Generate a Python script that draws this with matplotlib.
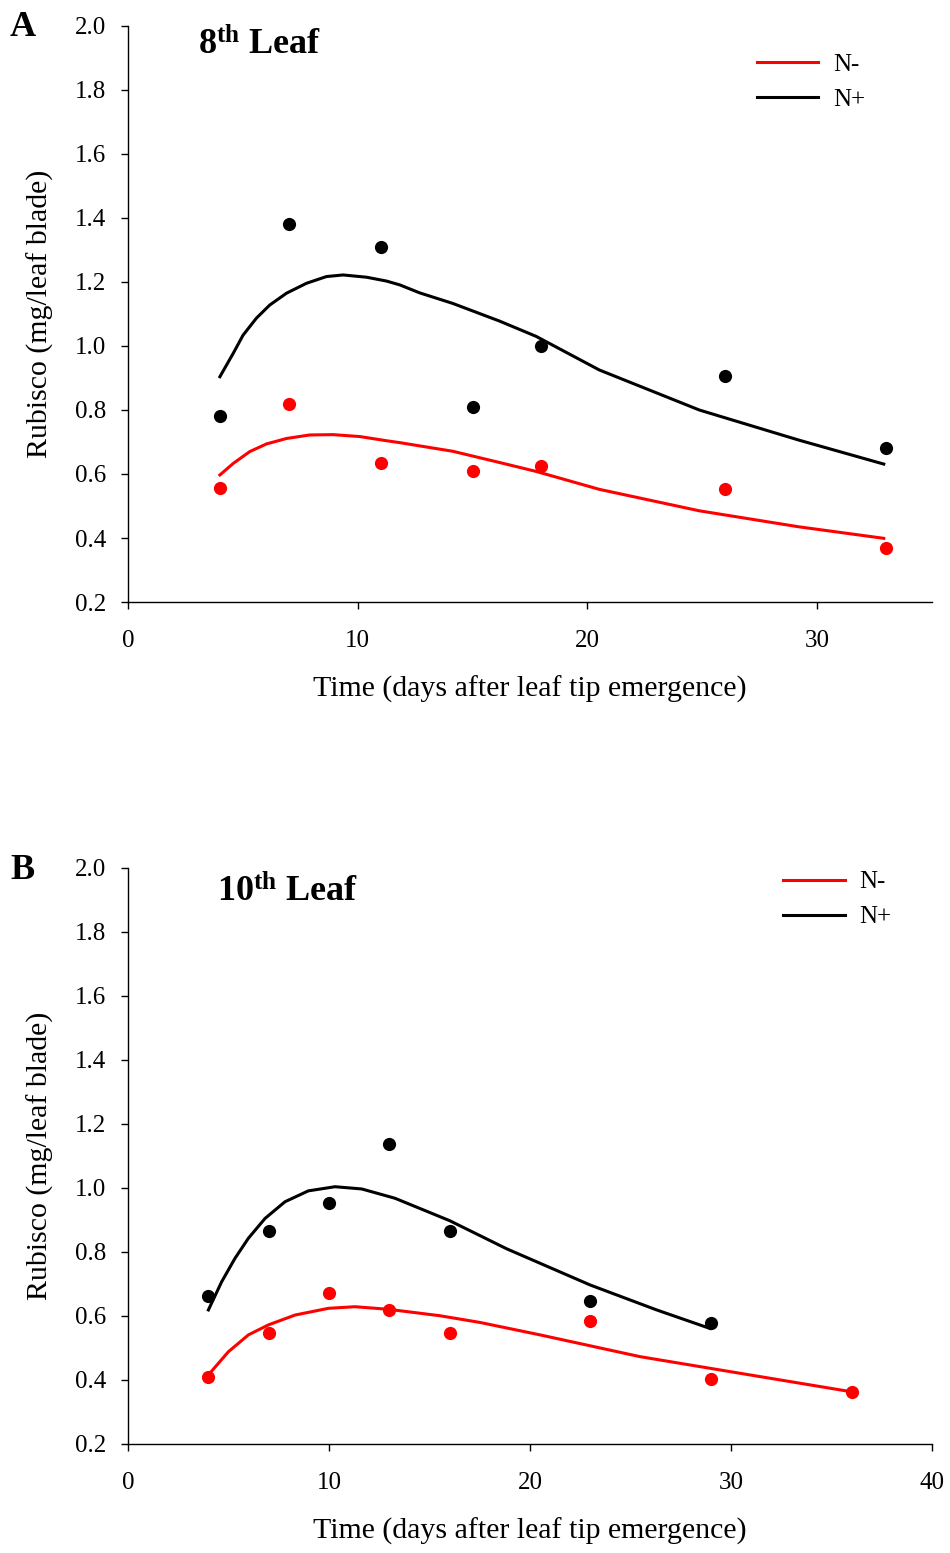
import matplotlib

matplotlib.use("Agg")
import matplotlib.pyplot as plt

plt.rcParams["font.family"] = ["Liberation Serif", "DejaVu Serif"]
plt.rcParams["mathtext.fontset"] = "custom"
plt.rcParams["mathtext.rm"] = "Liberation Serif"
plt.rcParams["mathtext.bf"] = "Liberation Serif:bold"

# panel A: 8th leaf
a_days = [4, 7, 11, 15, 18, 26, 33]
a_nplus = [0.78, 1.38, 1.31, 0.81, 1.00, 0.905, 0.68]
a_nminus = [0.555, 0.82, 0.635, 0.61, 0.625, 0.552, 0.368]
# fitted curves
a_fit_days_plus = [4.0, 4.58, 5.01, 5.59, 6.17, 6.9, 7.77, 8.64, 9.36, 10.38, 11.25, 11.83,
                   12.7, 14.14, 16.17, 17.77, 20.52, 24.87, 29.2, 32.9]
a_fit_nplus = [0.904, 0.977, 1.034, 1.087, 1.128, 1.165, 1.196, 1.217, 1.222, 1.215, 1.203, 1.191,
               1.166, 1.133, 1.078, 1.030, 0.925, 0.800, 0.706, 0.631]
a_fit_days_minus = [4.0, 4.58, 5.3, 6.03, 6.9, 7.91, 8.93, 10.09, 11.25, 11.83, 14.14, 16.17,
                    17.77, 20.52, 24.87, 29.2, 32.9]
a_fit_nminus = [0.597, 0.633, 0.670, 0.694, 0.711, 0.722, 0.723, 0.717, 0.704, 0.698, 0.671, 0.636,
                0.608, 0.552, 0.485, 0.435, 0.399]

# panel B: 10th leaf
b_days_plus = [4, 7, 10, 13, 16, 23, 29]
b_nplus = [0.662, 0.866, 0.953, 1.137, 0.866, 0.647, 0.578]
b_days_minus = [4, 7, 10, 13, 16, 23, 29, 36]
b_nminus = [0.41, 0.547, 0.672, 0.619, 0.547, 0.584, 0.403, 0.362]
b_fit_days_plus = [4.0, 4.66, 5.32, 5.99, 6.82, 7.81, 8.97, 10.3, 11.63, 13.28, 16.0, 18.84,
                   22.99, 26.3, 28.96]
b_fit_nplus = [0.619, 0.707, 0.780, 0.843, 0.905, 0.957, 0.991, 1.004, 0.997, 0.968, 0.898, 0.81,
               0.697, 0.619, 0.561]
b_fit_days_minus = [4.0, 4.99, 5.99, 6.98, 8.31, 9.97, 11.29, 12.95, 15.5, 17.5, 20.5, 25.47,
                    30.45, 35.92]
b_fit_nminus = [0.416, 0.488, 0.541, 0.572, 0.603, 0.624, 0.629, 0.621, 0.601, 0.58, 0.541, 0.473,
                0.421, 0.364]

RED = "#ff0000"
BLACK = "#000000"


def panel(ax, days_p, nplus, days_m, nminus, fdp, fp, fdm, fm, xmax, xticks, title, tx, ty, leg_x, leg_y):
    ax.plot(fdm, fm, color=RED, lw=2.2, label="N-", solid_joinstyle="round")
    ax.plot(fdp, fp, color=BLACK, lw=2.2, label="N+", solid_joinstyle="round")
    ax.plot(days_m, nminus, "o", color=RED, ms=9.5, mec="none")
    ax.plot(days_p, nplus, "o", color=BLACK, ms=9.5, mec="none")
    ax.set_xlim(0, xmax)
    ax.set_ylim(0.2, 2.0)
    ax.set_xticks(xticks)
    ax.set_yticks([0.2 + 0.2 * i for i in range(10)])
    ax.set_yticklabels([f"{0.2 + 0.2 * i:.1f}" for i in range(10)])
    for s in ("top", "right"):
        ax.spines[s].set_visible(False)
    for s in ("left", "bottom"):
        ax.spines[s].set_linewidth(1.0)
    ax.tick_params(axis="both", direction="out", length=5, width=1.0, labelsize=18)
    ax.tick_params(axis="y", pad=11)
    ax.tick_params(axis="x", pad=15)
    ax.set_xlabel("Time (days after leaf tip emergence)", fontsize=21.5, labelpad=17)
    ax.set_ylabel("Rubisco (mg/leaf blade)", fontsize=21.5, labelpad=15)
    ax.text(tx, ty, title, transform=ax.transAxes, fontsize=26, fontweight="bold",
            ha="left", va="center")
    ax.legend(loc="upper left", bbox_to_anchor=(leg_x, leg_y), frameon=False, fontsize=18,
              handlelength=2.45, handletextpad=0.6, borderpad=0, borderaxespad=0, labelspacing=0.5)


fig = plt.figure(figsize=(9.5, 15.53), dpi=100)
ax_a = fig.add_axes([128 / 950, 1 - 602 / 1553, 804 / 950, 576 / 1553])
ax_b = fig.add_axes([128 / 950, 1 - 1444 / 1553, 804 / 950, 576 / 1553])

panel(ax_a, a_days, a_nplus, a_days, a_nminus, a_fit_days_plus, a_fit_nplus, a_fit_days_minus,
      a_fit_nminus, 35, [0, 10, 20, 30], r"$\mathbf{8^{th}}$ Leaf", 0.087, 0.967, 0.782, 0.952)
panel(ax_b, b_days_plus, b_nplus, b_days_minus, b_nminus, b_fit_days_plus, b_fit_nplus,
      b_fit_days_minus, b_fit_nminus, 40, [0, 10, 20, 30, 40], r"$\mathbf{10^{th}}$ Leaf",
      0.111, 0.958, 0.815, 0.995)

fig.text(10 / 950, 1 - 27 / 1553, "A", fontsize=26, fontweight="bold", ha="left", va="center")
fig.text(10 / 950, 1 - 870 / 1553, "B", fontsize=26, fontweight="bold", ha="left", va="center")

fig.savefig("out.png", dpi=100)
